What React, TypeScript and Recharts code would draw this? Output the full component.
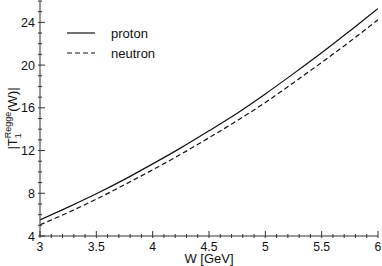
import React from "react";
import { LineChart, Line, XAxis, YAxis, Legend } from "recharts";

// W [GeV] sample points and |T_1^Regge(W)|
const wValues = [3, 3.25, 3.5, 3.75, 4, 4.25, 4.5, 4.75, 5, 5.25, 5.5, 5.75, 6];
const protonValues = [5.5, 6.7, 7.95, 9.3, 10.75, 12.25, 13.85, 15.5, 17.3, 19.2, 21.15, 23.2, 25.3];
const neutronValues = [5.05, 6.2, 7.45, 8.8, 10.2, 11.65, 13.2, 14.8, 16.5, 18.35, 20.25, 22.2, 24.25];

const xMajorTicks = [3, 3.5, 4, 4.5, 5, 5.5, 6];
const xTicks = Array.from({ length: 31 }, (_, i) => Math.round((3 + i * 0.1) * 10) / 10);
const yMajorTicks = [4, 8, 12, 16, 20, 24];
const yTicks = Array.from({ length: 23 }, (_, i) => 4 + i);

const data = wValues.map((w, i) => ({ w, proton: protonValues[i], neutron: neutronValues[i] }));

const FONT = "'Liberation Sans', Arial, sans-serif";
const INK = "#111";
const FRAME = "#333";

const isMajor = (v: number, list: number[]) => list.some((m) => Math.abs(m - v) < 1e-6);

const BottomTick = ({ x, y, payload }: any) => {
    const major = isMajor(payload.value, xMajorTicks);
    return (
        <g>
            <line x1={x} x2={x} y1={y} y2={y - (major ? 7 : 4)} stroke={FRAME} />
            {major && (
                <text x={x} y={y + 13} textAnchor="middle" fontSize={12.2} fontFamily={FONT} fill={INK}>
                    {payload.value}
                </text>
            )}
        </g>
    );
};

const TopTick = ({ x, y, payload }: any) => {
    const major = isMajor(payload.value, xMajorTicks);
    return <line x1={x} x2={x} y1={y} y2={y + (major ? 7 : 4)} stroke={FRAME} />;
};

const LeftTick = ({ x, y, payload }: any) => {
    const major = isMajor(payload.value, yMajorTicks);
    return (
        <g>
            <line x1={x} x2={x + (major ? 7 : 4)} y1={y} y2={y} stroke={FRAME} />
            {major && (
                <text x={x - 3} y={y} dy="0.36em" textAnchor="end" fontSize={12.5} fontFamily={FONT} fill={INK}>
                    {payload.value}
                </text>
            )}
        </g>
    );
};

const RightTick = ({ x, y, payload }: any) => {
    const major = isMajor(payload.value, yMajorTicks);
    return <line x1={x} x2={x - (major ? 7 : 4)} y1={y} y2={y} stroke={FRAME} />;
};

const YLabel = ({ viewBox }: any) => {
    const cx = viewBox.x + 17;
    const cy = viewBox.y + viewBox.height / 2;
    return (
        <text
            transform={`translate(${cx},${cy}) rotate(-90)`}
            textAnchor="middle"
            fontSize={13}
            fontFamily={FONT}
            fill={INK}
        >
            <tspan>|T</tspan>
            <tspan fontSize={9} dy={4}>1</tspan>
            <tspan fontSize={9} dx={-5} dy={-10}>Regge</tspan>
            <tspan dy={6}>(W)|</tspan>
        </text>
    );
};

const XLabel = ({ viewBox }: any) => (
    <text
        x={viewBox.x + viewBox.width / 2}
        y={viewBox.y + 27}
        textAnchor="middle"
        fontSize={13}
        fontFamily={FONT}
        fill={INK}
    >
        W [GeV]
    </text>
);

const LegendBox = () => (
    <div style={{ fontFamily: FONT, fontSize: 13, color: INK }}>
        {[
            { name: "proton", dash: undefined },
            { name: "neutron", dash: "5 3" },
        ].map((item) => (
            <div key={item.name} style={{ display: "flex", alignItems: "center", height: 20 }}>
                <svg width={30} height={10} style={{ marginRight: 15 }}>
                    <line x1={1} x2={29} y1={5} y2={5} stroke={INK} strokeWidth={1.2} strokeDasharray={item.dash} />
                </svg>
                <span>{item.name}</span>
            </div>
        ))}
    </div>
);

export default function App() {
    return (
        <div style={{ position: "absolute", left: 0, top: 0, background: "#fff" }}>
            <LineChart width={382} height={266} data={data} margin={{ top: 1, right: 4, bottom: 0, left: 0 }}>
                <XAxis
                    dataKey="w"
                    type="number"
                    domain={[3, 6]}
                    ticks={xTicks}
                    interval={0}
                    height={30}
                    tickSize={0}
                    tickLine={false}
                    stroke={FRAME}
                    tick={<BottomTick />}
                    label={{ content: <XLabel /> }}
                    allowDataOverflow
                />
                <XAxis
                    xAxisId="top"
                    orientation="top"
                    dataKey="w"
                    type="number"
                    domain={[3, 6]}
                    ticks={xTicks}
                    interval={0}
                    height={0}
                    tickSize={0}
                    tickLine={false}
                    stroke={FRAME}
                    tick={<TopTick />}
                    allowDataOverflow
                />
                <YAxis
                    type="number"
                    domain={[4, 26]}
                    ticks={yTicks}
                    interval={0}
                    width={40}
                    tickSize={0}
                    tickLine={false}
                    stroke={FRAME}
                    tick={<LeftTick />}
                    label={{ content: <YLabel /> }}
                    allowDataOverflow
                />
                <YAxis
                    yAxisId="right"
                    orientation="right"
                    type="number"
                    domain={[4, 26]}
                    ticks={yTicks}
                    interval={0}
                    width={0}
                    tickSize={0}
                    tickLine={false}
                    stroke={FRAME}
                    tick={<RightTick />}
                    allowDataOverflow
                />
                <Legend
                    content={<LegendBox />}
                    layout="vertical"
                    verticalAlign="middle"
                    align="center"
                    wrapperStyle={{ position: "absolute", left: 66, top: 23, width: "auto", height: "auto" }}
                />
                <Line
                    dataKey="proton"
                    type="monotone"
                    stroke={INK}
                    strokeWidth={1.2}
                    dot={false}
                    isAnimationActive={false}
                />
                <Line
                    dataKey="neutron"
                    type="monotone"
                    stroke={INK}
                    strokeWidth={1.2}
                    strokeDasharray="5 3"
                    dot={false}
                    isAnimationActive={false}
                />
            </LineChart>
        </div>
    );
}
